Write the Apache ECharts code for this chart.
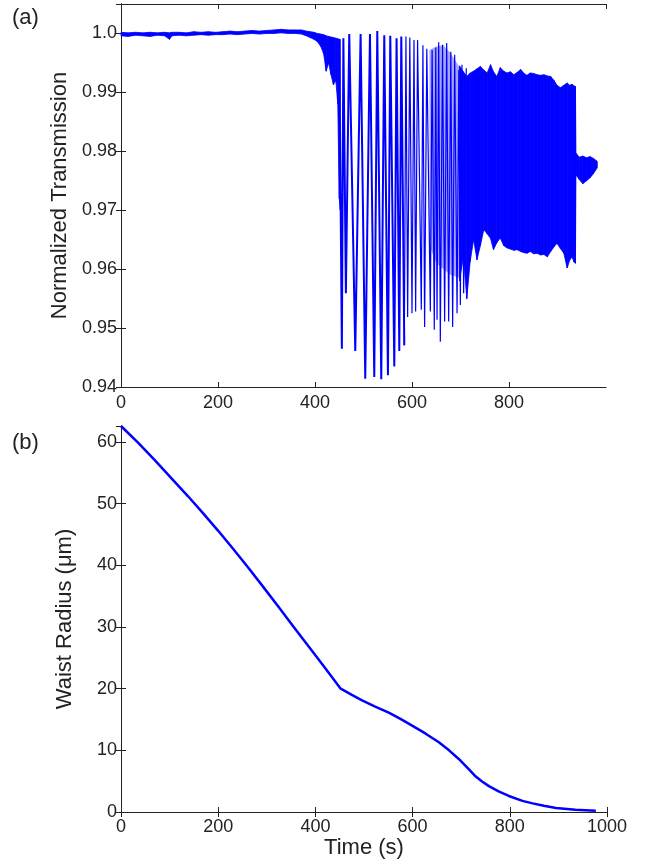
<!DOCTYPE html>
<html><head><meta charset="utf-8">
<script src="https://cdn.jsdelivr.net/npm/echarts@6/dist/echarts.min.js"></script>
<style>html,body{margin:0;padding:0;background:#fff}#c{width:664px;height:860px}</style>
</head><body><div id="c"></div>
<script>
// ---- Panel (a): normalized transmission ----
// flat / onset region drawn as a thin noisy band (upper/lower envelope)
const preT  = [0, 15, 30, 45, 60, 75, 90, 100, 105, 120, 135, 150, 165, 180, 195, 210, 225, 240, 255, 270, 285, 300, 315, 330, 345, 360, 372, 382, 390, 398, 405, 412, 418, 423, 428, 433, 438, 443, 447, 450, 452];
const preHi = [1.0002, 1.0001, 1.0002, 1.0001, 1.0002, 1.0001, 1.0002, 1.0001, 1.0002, 1.0002, 1.0001, 1.0003, 1.0002, 1.0003, 1.0002, 1.0003, 1.0004, 1.0003, 1.0004, 1.0005, 1.0004, 1.0005, 1.0006, 1.0007, 1.0006, 1.0006, 1.0006, 1.0004, 1.0003, 1.0002, 1.0000, 0.9999, 0.9998, 0.9996, 0.9995, 0.9994, 0.9993, 0.9992, 0.9991, 0.9990, 0.9990];
const preLo = [0.9996, 0.9995, 0.9997, 0.9996, 0.9995, 0.9997, 0.9996, 0.9990, 0.9996, 0.9997, 0.9996, 0.9997, 0.9998, 0.9997, 0.9998, 0.9998, 0.9999, 0.9998, 0.9999, 1.0000, 0.9999, 1.0000, 1.0000, 1.0001, 1.0000, 1.0000, 0.9999, 0.9996, 0.9993, 0.9990, 0.9986, 0.9978, 0.9965, 0.9936, 0.9950, 0.9930, 0.9913, 0.9920, 0.9880, 0.9720, 0.9700];

// resolved fringes: alternating peaks and troughs
const earlyT = [450, 455.4, 458.5, 463.7, 470.6, 483.0, 494.0, 503.6, 513.3, 522.2, 528.4, 536.6, 542.8, 550.4, 555.2, 563.5, 568.2, 573.8, 577.9, 584.1];
const earlyV = [0.9990, 0.9465, 0.9992, 0.9559, 0.9999, 0.9461, 0.9999, 0.9414, 0.9999, 0.9417, 1.0004, 0.9413, 0.9997, 0.9420, 0.9996, 0.9435, 0.9992, 0.9461, 0.9995, 0.9471];
const lateT = [584.1, 587.5, 591.0, 595.5, 600.0, 604.1, 607.5, 611.5, 619.2, 622.5, 626.0, 630.5, 637.8, 641.5, 646.0, 649.0, 651.6, 655.0, 658.4, 663.0, 667.3, 671.5, 675.6, 680.0, 683.8, 688.0, 692.9, 696.5, 699.7, 703.0, 706.5, 712.0];
const lateV = [0.9471, 0.9995, 0.9519, 0.9993, 0.9525, 0.9989, 0.9528, 0.9989, 0.9531, 0.9980, 0.9502, 0.9974, 0.9528, 0.9972, 0.9497, 0.9976, 0.9514, 0.9985, 0.9477, 0.9981, 0.9511, 0.9984, 0.9511, 0.9969, 0.9502, 0.9964, 0.9525, 0.9938, 0.9539, 0.9947, 0.9559, 0.9941];

// pale fill between the late resolved fringes
const paleT  = [636, 650, 665, 680, 700];
const paleHi = [0.9972, 0.9978, 0.9980, 0.9966, 0.9940];
const paleLo = [0.9640, 0.9610, 0.9600, 0.9590, 0.9585];

// unresolved fast fringes: envelope band
const denseT  = [698, 706, 713, 720, 727, 734, 741, 748, 755, 762, 768, 775, 782, 789, 796, 803, 810, 817, 824, 831, 837, 844, 851, 858, 865, 872, 879, 886, 893, 899, 906, 913, 920, 925, 930, 934, 937, 938, 945, 952, 960, 967, 974, 982];
const denseHi = [0.9945, 0.9935, 0.9927, 0.9933, 0.9936, 0.9940, 0.9944, 0.9938, 0.9933, 0.9947, 0.9935, 0.9927, 0.9942, 0.9936, 0.9933, 0.9935, 0.9930, 0.9934, 0.9939, 0.9932, 0.9929, 0.9933, 0.9932, 0.9930, 0.9929, 0.9930, 0.9928, 0.9927, 0.9920, 0.9912, 0.9908, 0.9912, 0.9916, 0.9912, 0.9914, 0.9911, 0.9910, 0.9797, 0.9790, 0.9792, 0.9789, 0.9791, 0.9788, 0.9783];
const denseLo = [0.9580, 0.9621, 0.9550, 0.9613, 0.9650, 0.9616, 0.9640, 0.9667, 0.9660, 0.9652, 0.9633, 0.9645, 0.9653, 0.9640, 0.9636, 0.9634, 0.9632, 0.9633, 0.9630, 0.9628, 0.9627, 0.9630, 0.9626, 0.9627, 0.9624, 0.9625, 0.9621, 0.9630, 0.9638, 0.9644, 0.9635, 0.9627, 0.9602, 0.9615, 0.9621, 0.9612, 0.9610, 0.9760, 0.9752, 0.9745, 0.9750, 0.9755, 0.9762, 0.9772];

// ---- Panel (b): waist radius ----
const waistT = [0, 35, 69, 103, 138, 170, 200, 231, 262, 293, 324, 355, 385, 420, 452, 475, 496, 523, 551, 575, 599, 627, 654, 675, 695, 716, 730, 743, 757, 778, 798, 826, 847, 870, 895, 935, 977];
const waistR = [62.6, 59.9, 57.1, 54.2, 51.2, 48.35, 45.6, 42.65, 39.6, 36.47, 33.28, 30.05, 26.95, 23.35, 20.0, 19.0, 18.1, 17.1, 16.1, 15.1, 14.0, 12.7, 11.3, 10.0, 8.6, 6.9, 5.75, 4.95, 4.2, 3.3, 2.6, 1.8, 1.4, 1.0, 0.65, 0.35, 0.2];

const BLUE = '#0000ff';
const INK = '#222222';
const FONT = '"Liberation Sans", Arial, Helvetica, sans-serif';

function bandSeries(T, Hi, Lo, fill, stroke) {
  return {
    type: 'custom', xAxisIndex: 0, yAxisIndex: 0, silent: true,
    data: T.map((t, i) => [t, Lo[i], Hi[i]]),
    encode: { x: 0, y: [1, 2] },
    renderItem: function (params, api) {
      const i = params.dataIndex;
      if (i >= T.length - 1) return null;
      const pts = [
        api.coord([T[i], Hi[i]]), api.coord([T[i + 1], Hi[i + 1]]),
        api.coord([T[i + 1], Lo[i + 1]]), api.coord([T[i], Lo[i]])
      ];
      return { type: 'polygon', shape: { points: pts },
        style: stroke ? { fill: fill, stroke: fill, lineWidth: 0.8 } : { fill: fill } };
    },
    z: 2
  };
}
function lineSeries(T, V, w, xi, yi) {
  return {
    type: 'line', xAxisIndex: xi, yAxisIndex: yi, showSymbol: false, symbol: 'none',
    data: T.map((t, i) => [t, V[i]]),
    lineStyle: { color: BLUE, width: w }, itemStyle: { color: BLUE },
    silent: true, z: 3
  };
}

const axLine = { show: true, lineStyle: { color: INK, width: 1 } };
const tick = { show: true, inside: true, length: 5, lineStyle: { color: INK, width: 1 } };
const lab = { color: INK, fontSize: 18, fontFamily: FONT };

const option = {
  animation: false,
  backgroundColor: '#fff',
  textStyle: { fontFamily: FONT },
  grid: [
    { left: 121, right: 58, top: 4, height: 383 },
    { left: 121, right: 57, top: 426, height: 386 }
  ],
  xAxis: [
    { gridIndex: 0, type: 'value', min: 0, max: 1000, interval: 200, position: 'bottom',
      axisLine: axLine, axisTick: tick, splitLine: { show: false },
      axisLabel: Object.assign({ margin: 7, showMaxLabel: false, formatter: v => String(v) }, lab) },
    { gridIndex: 0, type: 'value', min: 0, max: 1000, interval: 200, position: 'top',
      axisLine: axLine, axisTick: tick, splitLine: { show: false }, axisLabel: { show: false } },
    { gridIndex: 1, type: 'value', min: 0, max: 1000, interval: 200, position: 'bottom',
      axisLine: axLine, axisTick: tick, splitLine: { show: false },
      axisLabel: Object.assign({ margin: 6, formatter: v => String(v) }, lab),
      name: 'Time (s)', nameLocation: 'middle', nameGap: 22,
      nameTextStyle: { color: INK, fontSize: 22, fontFamily: FONT } },
    { gridIndex: 1, type: 'value', min: 0, max: 1000, interval: 200, position: 'top',
      axisLine: axLine, axisTick: tick, splitLine: { show: false }, axisLabel: { show: false } }
  ],
  yAxis: [
    { gridIndex: 0, type: 'value', min: 0.94, max: 1.005, interval: 0.01, position: 'left',
      axisLine: axLine, axisTick: tick, splitLine: { show: false },
      axisLabel: Object.assign({ margin: 4, showMaxLabel: false,
        formatter: v => Math.abs(v - 1) < 1e-9 ? '1.0' : v.toFixed(2) }, lab),
      name: 'Normalized Transmission', nameLocation: 'middle', nameGap: 45,
      nameTextStyle: { color: INK, fontSize: 22, fontFamily: FONT } },
    { gridIndex: 0, type: 'value', min: 0.94, max: 1.005, interval: 0.01, position: 'right',
      axisLine: axLine, axisTick: tick, splitLine: { show: false }, axisLabel: { show: false } },
    { gridIndex: 1, type: 'value', min: 0, max: 62.6, interval: 10, position: 'left',
      axisLine: axLine, axisTick: tick, splitLine: { show: false },
      axisLabel: Object.assign({ margin: 4, showMaxLabel: false }, lab),
      name: 'Waist Radius (μm)', nameLocation: 'middle', nameGap: 45,
      nameTextStyle: { color: INK, fontSize: 22, fontFamily: FONT } },
    { gridIndex: 1, type: 'value', min: 0, max: 62.6, interval: 10, position: 'right',
      axisLine: axLine, axisTick: tick, splitLine: { show: false }, axisLabel: { show: false } }
  ],
  graphic: [
    { type: 'text', left: 12, top: 7, style: { text: '(a)', fontSize: 22, fill: INK, fontFamily: FONT } },
    { type: 'text', left: 12, top: 432, style: { text: '(b)', fontSize: 22, fill: INK, fontFamily: FONT } }
  ],
  series: [
    bandSeries(paleT, paleHi, paleLo, 'rgba(0,0,255,0.35)', false),
    bandSeries(preT, preHi, preLo, BLUE, true),
    bandSeries(denseT, denseHi, denseLo, BLUE, true),
    lineSeries(earlyT, earlyV, 2, 0, 0),
    lineSeries(lateT, lateV, 1.2, 0, 0),
    lineSeries(waistT, waistR, 2.5, 2, 2)
  ]
};
const chart = echarts.init(document.getElementById('c'), null, { renderer: 'canvas' });
chart.setOption(option);
</script>
</body></html>
